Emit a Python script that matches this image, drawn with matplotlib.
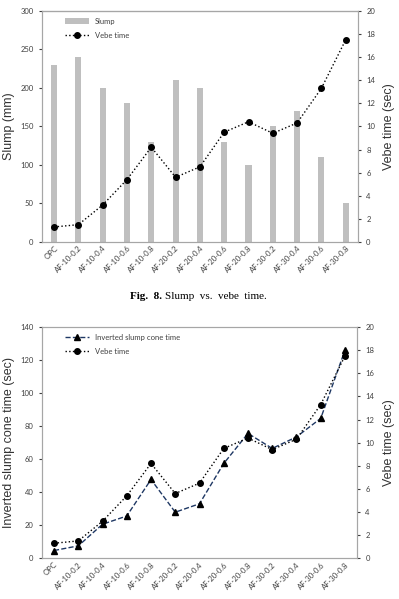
import matplotlib.pyplot as plt
import numpy as np

# mixes on the x axis
mixes = ['OPC', 'AF-10-0.2', 'AF-10-0.4', 'AF-10-0.6', 'AF-10-0.8',
         'AF-20-0.2', 'AF-20-0.4', 'AF-20-0.6', 'AF-20-0.8',
         'AF-30-0.2', 'AF-30-0.4', 'AF-30-0.6', 'AF-30-0.8']
slump = [230, 240, 200, 180, 130, 210, 200, 130, 100, 150, 170, 110, 50]
vebe = [1.3, 1.5, 3.2, 5.4, 8.2, 5.6, 6.5, 9.5, 10.4, 9.4, 10.3, 13.3, 17.5]
inverted = [4.7, 7.5, 20.6, 25.6, 47.7, 27.9, 33, 57.4, 75.6, 66.5, 73.5, 84.7, 126]

tick_font = 'Lato'
label_font = 'Liberation Sans'
tick_col = '#404040'
spine_col = '#a6a6a6'

fig = plt.figure(figsize=(3.99, 5.99), dpi=100)
x = np.arange(len(mixes))


def style_axes(ax, ax2, left_max, left_step):
    ax.set_xlim(-0.5, len(mixes) - 0.5)
    ax.set_ylim(0, left_max)
    ax.set_yticks(np.arange(0, left_max + 1, left_step))
    ax2.set_ylim(0, 20)
    ax2.set_yticks(np.arange(0, 21, 2))
    ax.set_xticks(x)
    ax.set_xticklabels(mixes, rotation=45, ha='right', rotation_mode='anchor',
                       fontsize=5.5, family=tick_font, color=tick_col)
    for a in (ax, ax2):
        a.tick_params(axis='y', labelsize=5.5, colors=tick_col, length=2.5)
        for lab in a.get_yticklabels():
            lab.set_family(tick_font)
        for s in a.spines.values():
            s.set_color(spine_col)
            s.set_linewidth(0.8)
    ax.tick_params(axis='x', length=0, pad=2)
    ax2.set_ylabel('Vebe time (sec)', fontsize=9, family=label_font, color='#333333', labelpad=6)


# top chart: slump bars + vebe time
ax1 = fig.add_axes([0.105, 0.596, 0.792, 0.386])
ax1b = ax1.twinx()
ax1.bar(x, slump, width=0.25, color='#bfbfbf', label='Slump')
ax1b.plot(x, vebe, ':', color='black', lw=1, marker='o', ms=4, label='Vebe time')
style_axes(ax1, ax1b, 300, 50)
ax1.spines['top'].set_color('#404040')
ax1.set_ylabel('Slump (mm)', fontsize=9, family=label_font, color='#333333', labelpad=4)
h1, l1 = ax1.get_legend_handles_labels()
h2, l2 = ax1b.get_legend_handles_labels()
leg = ax1.legend(h1 + h2, l1 + l2, loc='upper left', frameon=False,
                 prop={'family': tick_font, 'size': 5.5}, handlelength=3.2,
                 bbox_to_anchor=(0.05, 1.0), labelspacing=0.9)
for t in leg.get_texts():
    t.set_color(tick_col)

# caption, bold figure number
fig.text(0.405, 0.505, 'Fig.  8.', ha='right', va='center',
         fontsize=8, family='Liberation Serif', fontweight='bold')
fig.text(0.413, 0.505, 'Slump  vs.  vebe  time.', ha='left', va='center',
         fontsize=8, family='Liberation Serif')

# bottom chart: inverted slump cone time + vebe time
ax2 = fig.add_axes([0.105, 0.068, 0.79, 0.386])
ax2b = ax2.twinx()
ax2.plot(x, inverted, '--', color='#1f3864', lw=1, marker='^', ms=4,
         mfc='black', mec='black', label='Inverted slump cone time')
ax2b.plot(x, vebe, ':', color='black', lw=1, marker='o', ms=4, label='Vebe time')
style_axes(ax2, ax2b, 140, 20)
ax2.set_ylabel('Inverted slump cone time (sec)', fontsize=9, family=label_font,
               color='#333333', labelpad=4)
h1, l1 = ax2.get_legend_handles_labels()
h2, l2 = ax2b.get_legend_handles_labels()
leg = ax2.legend(h1 + h2, l1 + l2, loc='upper left', frameon=False,
                 prop={'family': tick_font, 'size': 5.5}, handlelength=3.2,
                 bbox_to_anchor=(0.05, 1.0), labelspacing=0.9)
for t in leg.get_texts():
    t.set_color(tick_col)

fig.savefig('out.png', dpi=100)
